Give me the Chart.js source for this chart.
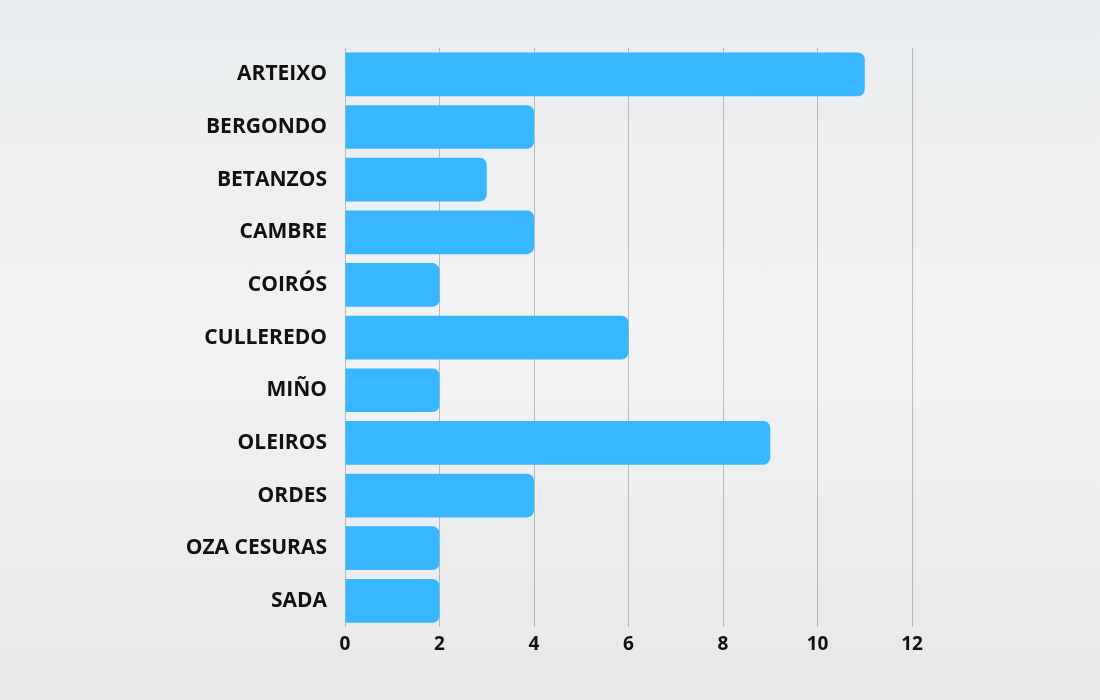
<!DOCTYPE html>
<html><head><meta charset="utf-8">
<script src="https://cdn.jsdelivr.net/npm/chart.js@4"></script>
<style>
html,body{margin:0;padding:0;}
body{width:1100px;height:700px;background:linear-gradient(180deg,#e9ecee 0%,#f1f2f3 50%,#e6e8e9 100%);}
#wrap{width:1100px;height:700px;position:relative;}
</style></head><body>
<div id="wrap"><canvas id="c"></canvas></div>
<script>
const categories=["ARTEIXO","BERGONDO","BETANZOS","CAMBRE","COIRÓS","CULLEREDO","MIÑO","OLEIROS","ORDES","OZA CESURAS","SADA"];
const values=[11,4,3,4,2,6,2,9,4,2,2];
const xTicks=[0,2,4,6,8,10,12];
new Chart(document.getElementById('c'),{
type:'bar',
data:{labels:categories,datasets:[{data:values,backgroundColor:'#38b6ff',borderRadius:{topRight:7,bottomRight:7,topLeft:0,bottomLeft:0},borderSkipped:'start',categoryPercentage:0.83,barPercentage:1}]},
options:{indexAxis:'y',responsive:true,maintainAspectRatio:false,animation:false,
layout:{padding:{top:48,right:188,bottom:38,left:0}},
plugins:{legend:{display:false},tooltip:{enabled:false}},
scales:{
x:{min:0,max:12,afterBuildTicks:s=>{s.ticks=xTicks.map(v=>({value:v}));},
grid:{color:'rgba(120,120,120,0.45)',drawTicks:false},border:{display:false},
ticks:{color:'#111',padding:6,font:{family:'Open Sans',size:19,weight:'bold'}}},
y:{grid:{display:false},border:{display:false},afterFit:s=>{s.width=345;},
ticks:{color:'#111',padding:10,font:{family:'Open Sans',size:21,weight:'bold'}}}
}}
});
</script></body></html>
